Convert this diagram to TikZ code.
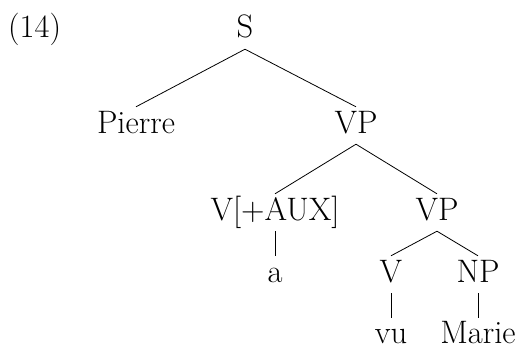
\documentclass[tikz,border=0pt]{standalone}
\usepackage{fontspec}
\begin{document}
\begin{tikzpicture}[x=1pt,y=1pt,
  lab/.style={anchor=base,inner xsep=0pt,inner ysep=5pt,text height=21pt,text depth=6pt,font=\fontsize{32.5}{38}\selectfont},
  leaf/.style={lab,inner ysep=0pt,text height=25pt,text depth=0pt},
  edge/.style={line width=0.8pt}]
\useasboundingbox (0,0) rectangle (522,349);
\node[lab,anchor=base west] (ex) at (8,311) {(14)};
\node[lab] (S) at (245,311) {S};
\node[lab] (pierre) at (136,216) {Pierre};
\node[lab] (vp1) at (356,216) {VP};
\node[lab] (vaux) at (275,129) {V[+AUX]};
\node[lab] (vp2) at (437,129) {VP};
\node[lab] (a) at (275,67) {a};
\node[lab] (v) at (391,67) {V};
\node[lab] (np) at (478,67) {NP};
\node[leaf] (vu) at (391,6) {vu};
\node[leaf] (marie) at (478,6) {Marie};
\draw[edge] (S.south) -- (pierre.north);
\draw[edge] (S.south) -- (vp1.north);
\draw[edge] (vp1.south) -- (vaux.north);
\draw[edge] (vp1.south) -- (vp2.north);
\draw[edge] (vaux.south) -- (a.north);
\draw[edge] (vp2.south) -- (v.north);
\draw[edge] (vp2.south) -- (np.north);
\draw[edge] (v.south) -- (vu.north);
\draw[edge] (np.south) -- (marie.north);
\end{tikzpicture}
\end{document}
